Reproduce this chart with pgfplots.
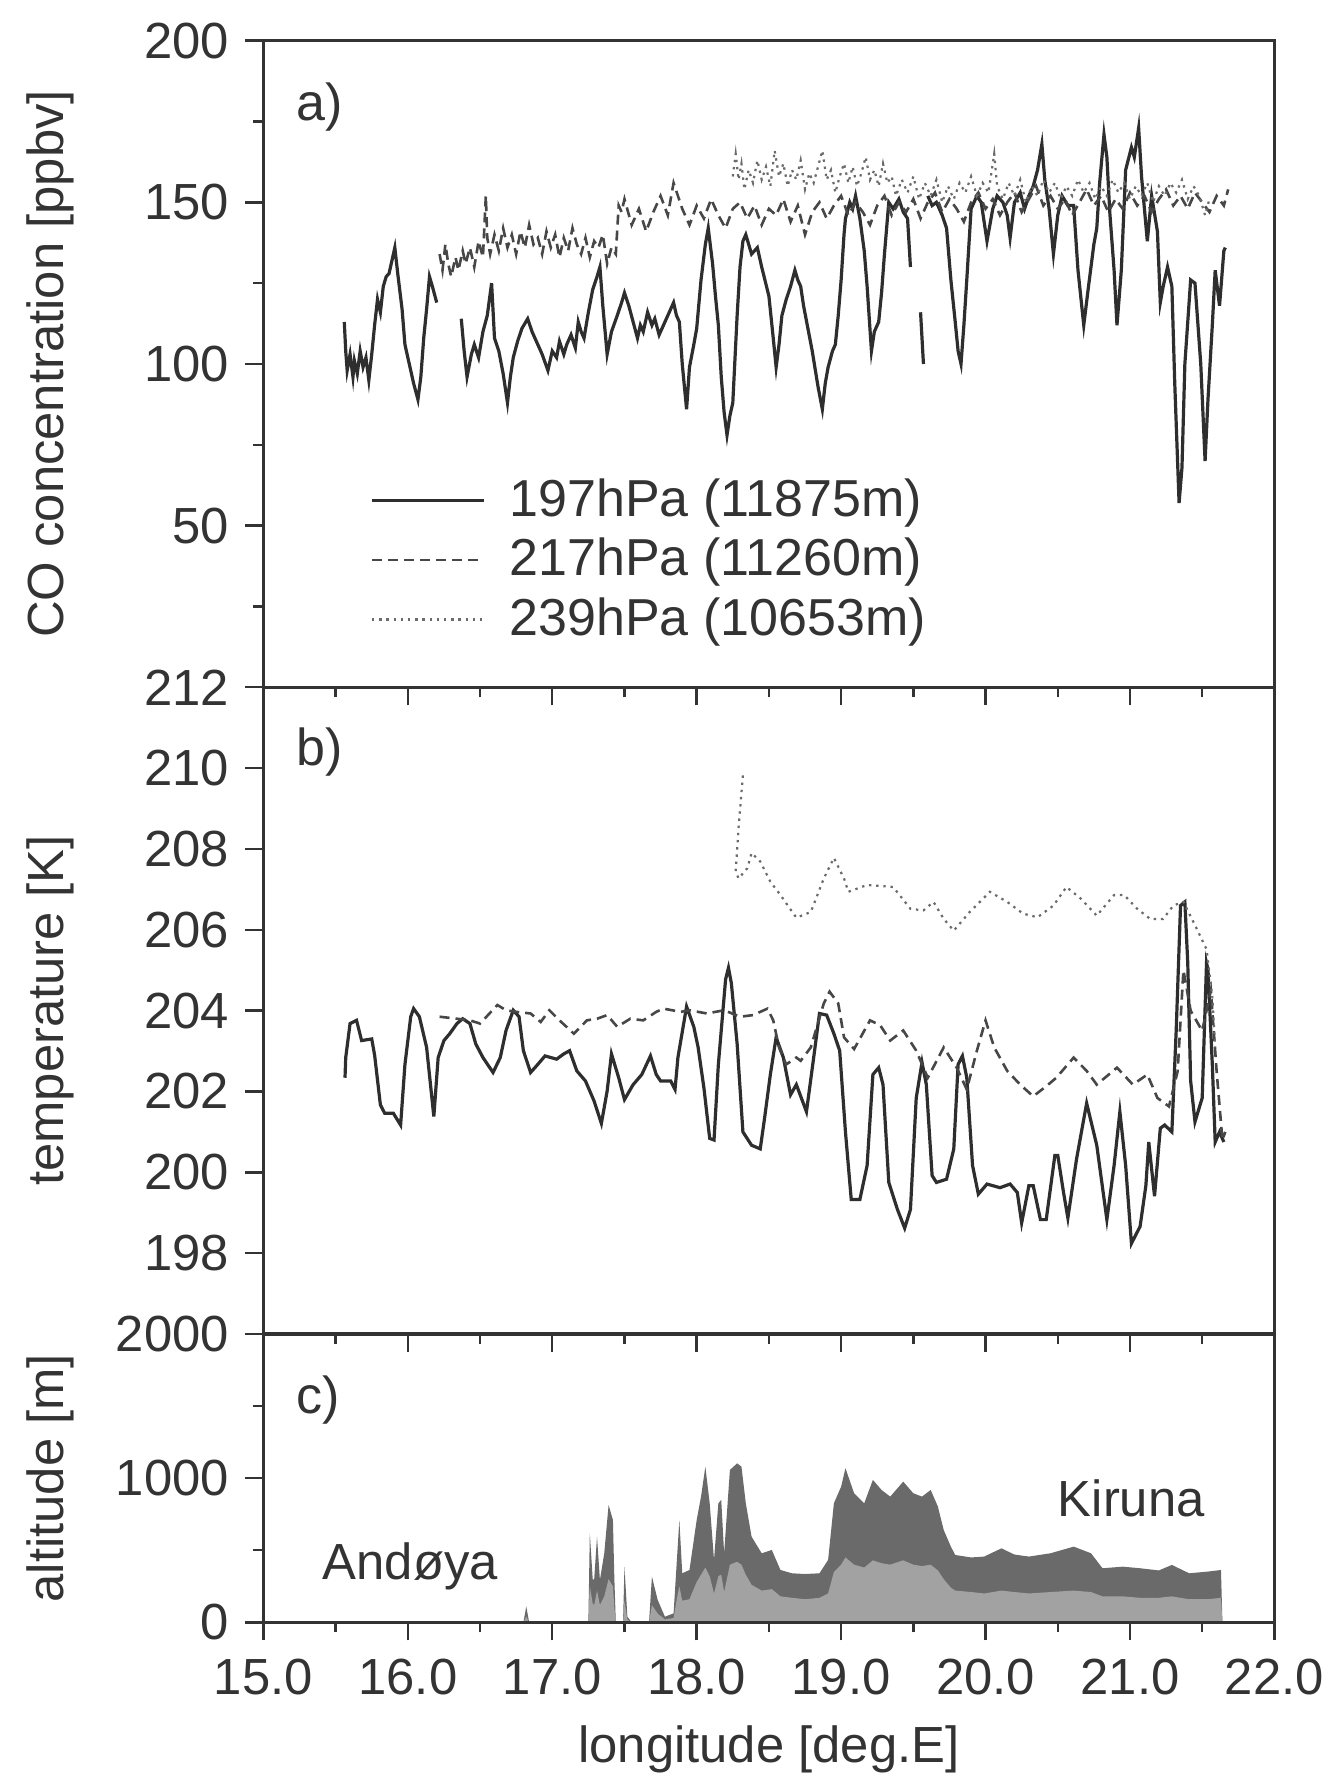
\documentclass[border=0pt]{standalone}
\usepackage{fontspec}
\setmainfont{Liberation Sans}
\usepackage{pgfplots}
\pgfplotsset{compat=1.18}
\usepackage{pgfplotstable}
\newcommand\fsz{\fontsize{12.7}{15}\selectfont}
\newcommand\fszl{\fontsize{13}{15.5}\selectfont}
\definecolor{ink}{HTML}{333333}
\definecolor{altdark}{HTML}{6A6A6A}
\definecolor{altlight}{HTML}{A2A2A2}

\pgfplotstableread{
x y
15.56 113
15.57 104
15.58 98
15.60 103
15.62 96
15.63 101
15.65 97
15.67 104
15.69 99
15.71 102
15.73 95
15.75 103
15.77 112
15.79 120
15.81 116
15.83 124
15.85 127
15.87 128
15.89 132
15.91 136
15.93 128
15.96 117
15.98 106
16.01 100
16.04 94
16.07 89
16.09 96
16.11 108
16.13 117
16.15 127
16.17 124
16.20 119
16.22 nan
16.37 114
16.39 104
16.41 96
16.44 103
16.46 106
16.49 102
16.52 110
16.55 115
16.58 125
16.60 108
16.63 104
16.66 97
16.69 88
16.71 96
16.73 102
16.76 107
16.79 111
16.83 114
16.86 110
16.90 106
16.93 103
16.97 98
17.00 104
17.03 102
17.05 107
17.08 103
17.10 106
17.13 109
17.16 105
17.18 113
17.20 110
17.22 108
17.25 116
17.28 123
17.31 127
17.33 130
17.35 118
17.38 103
17.41 110
17.45 115
17.48 119
17.50 122
17.53 118
17.56 113
17.59 108
17.61 112
17.63 110
17.66 116
17.69 112
17.71 114
17.74 109
17.77 112
17.80 115
17.84 119
17.86 115
17.88 113
17.90 100
17.93 86
17.95 99
17.98 106
18.00 111
18.03 126
18.06 137
18.08 142
18.11 131
18.13 121
18.15 112
18.17 96
18.19 85
18.21 78
18.23 84
18.25 88
18.28 115
18.30 130
18.32 138
18.34 140
18.38 134
18.42 136
18.45 130
18.50 121
18.53 108
18.55 99
18.57 106
18.59 115
18.62 120
18.65 124
18.68 129
18.70 126
18.72 124
18.74 118
18.77 111
18.80 104
18.84 93
18.87 86
18.89 94
18.91 99
18.94 104
18.96 106
18.98 115
19.00 126
19.02 140
19.03 145
19.06 150
19.08 148
19.10 152
19.13 145
19.16 135
19.18 124
19.21 104
19.23 110
19.26 113
19.28 122
19.30 134
19.33 150
19.36 148
19.40 151
19.43 147
19.46 145
19.48 130
19.49 nan
19.55 116
19.57 100
19.58 nan
19.60 152
19.63 149
19.66 150
19.70 146
19.73 142
19.76 126
19.79 113
19.81 104
19.83 100
19.85 112
19.87 126
19.90 148
19.94 152
19.97 150
20.01 138
20.05 148
20.08 152
20.12 150
20.15 146
20.17 139
20.20 150
20.24 153
20.27 148
20.30 152
20.33 155
20.36 160
20.39 168
20.41 157
20.44 148
20.47 134
20.50 146
20.53 152
20.57 149
20.61 149
20.64 129
20.68 112
20.71 123
20.75 137
20.77 142
20.79 156
20.82 171
20.84 164
20.86 147
20.89 129
20.91 112
20.94 129
20.97 160
21.01 167
21.03 164
21.06 173
21.08 158
21.12 138
21.15 152
21.19 141
21.21 119
21.23 124
21.26 130
21.29 124
21.31 94
21.34 57
21.36 68
21.38 100
21.42 126
21.45 125
21.49 100
21.52 70
21.54 89
21.57 112
21.59 129
21.62 118
21.65 135
21.66 136
}\coA

\pgfplotstableread{
x y
16.22 134
16.24 129
16.26 137
16.28 131
16.30 127
16.33 133
16.35 129
16.38 135
16.40 131
16.43 136
16.46 130
16.49 138
16.52 133
16.54 152
16.55 139
16.57 134
16.60 140
16.63 135
16.66 142
16.69 136
16.72 140
16.75 134
16.78 141
16.81 136
16.84 143
16.87 137
16.90 139
16.93 134
16.96 141
16.99 136
17.02 140
17.05 133
17.08 139
17.11 135
17.14 142
17.17 137
17.20 134
17.23 139
17.26 133
17.29 138
17.32 136
17.35 140
17.38 131
17.41 136
17.44 134
17.46 149
17.48 147
17.50 151
17.55 143
17.60 148
17.65 141
17.70 147
17.75 152
17.80 146
17.84 156
17.90 148
17.95 143
18.00 149
18.05 145
18.10 151
18.15 146
18.20 142
18.25 148
18.30 150
18.35 145
18.40 149
18.45 143
18.50 148
18.55 146
18.60 151
18.65 144
18.70 149
18.75 140
18.80 147
18.85 150
18.90 145
18.95 149
19.00 152
19.05 146
19.10 150
19.15 147
19.20 143
19.25 149
19.30 152
19.35 146
19.40 150
19.45 147
19.50 151
19.55 145
19.60 150
19.65 153
19.70 147
19.75 151
19.80 148
19.85 144
19.90 150
19.95 153
20.00 148
20.05 151
20.10 146
20.15 150
20.20 153
20.25 147
20.30 151
20.35 155
20.40 149
20.45 152
20.50 148
20.55 151
20.60 146
20.65 150
20.70 154
20.75 149
20.80 152
20.85 147
20.90 151
20.95 148
21.00 153
21.05 149
21.10 152
21.15 147
21.20 151
21.25 154
21.30 149
21.35 152
21.40 148
21.45 153
21.50 150
21.55 147
21.60 152
21.65 149
21.68 154
}\coB

\pgfplotstableread{
x y
18.25 158
18.27 165
18.29 157
18.31 162
18.33 154
18.36 160
18.39 156
18.42 163
18.45 157
18.48 161
18.51 155
18.54 166
18.57 158
18.60 162
18.63 155
18.66 160
18.69 157
18.72 163
18.75 154
18.78 159
18.81 156
18.84 161
18.87 166
18.90 157
18.93 160
18.96 153
18.99 158
19.02 162
19.05 156
19.08 161
19.11 155
19.14 159
19.17 164
19.20 157
19.23 160
19.26 155
19.29 162
19.32 156
19.35 158
19.38 152
19.42 157
19.46 153
19.50 158
19.54 151
19.58 156
19.62 152
19.66 157
19.70 150
19.74 155
19.78 151
19.82 156
19.86 153
19.90 158
19.94 152
19.98 156
20.02 153
20.06 165
20.08 155
20.12 151
20.16 156
20.20 152
20.24 157
20.28 150
20.32 155
20.36 152
20.40 157
20.44 153
20.48 156
20.52 151
20.56 155
20.60 152
20.64 157
20.68 153
20.72 156
20.76 151
20.80 155
20.84 152
20.88 157
20.92 153
20.96 156
21.00 151
21.04 155
21.08 152
21.12 156
21.16 150
21.20 155
21.24 152
21.28 156
21.32 153
21.36 157
21.40 151
21.44 155
21.48 152
21.52 146
21.55 151
}\coC

\pgfplotstableread{
x y
15.565 202.34
15.57 202.84
15.60 203.68
15.645 203.76
15.68 203.26
15.75 203.30
15.77 202.90
15.81 201.67
15.84 201.46
15.90 201.46
15.95 201.17
15.98 202.67
16.02 203.85
16.04 204.05
16.08 203.85
16.13 203.09
16.18 201.38
16.21 202.84
16.25 203.26
16.29 203.43
16.34 203.68
16.38 203.80
16.43 203.68
16.47 203.18
16.52 202.84
16.59 202.47
16.64 202.84
16.68 203.51
16.73 204.01
16.77 203.85
16.80 203.01
16.85 202.47
16.89 202.63
16.95 202.88
17.03 202.80
17.08 202.93
17.12 203.01
17.17 202.51
17.23 202.26
17.29 201.76
17.34 201.21
17.38 202.01
17.41 202.93
17.46 202.34
17.50 201.80
17.56 202.17
17.62 202.42
17.68 202.88
17.72 202.42
17.75 202.26
17.82 202.26
17.85 202.05
17.87 202.84
17.93 204.10
17.98 203.60
18.01 203.09
18.05 202.09
18.09 200.84
18.12 200.80
18.15 202.67
18.20 204.77
18.22 205.06
18.24 204.68
18.28 203.18
18.32 201.00
18.38 200.67
18.44 200.58
18.47 201.34
18.51 202.42
18.55 203.34
18.60 202.84
18.65 201.92
18.69 202.17
18.76 201.50
18.81 202.84
18.85 203.93
18.90 203.89
18.95 203.43
18.99 203.01
19.03 201.00
19.07 199.33
19.13 199.33
19.18 200.17
19.22 202.42
19.26 202.59
19.29 202.17
19.33 199.75
19.39 199.08
19.44 198.62
19.48 199.08
19.52 201.84
19.56 202.72
19.59 202.17
19.63 199.92
19.66 199.75
19.73 199.83
19.78 200.58
19.81 202.67
19.84 202.88
19.87 202.34
19.91 200.17
19.95 199.46
20.01 199.71
20.10 199.62
20.17 199.71
20.22 199.50
20.25 198.75
20.30 199.67
20.33 199.67
20.38 198.83
20.42 198.83
20.48 200.42
20.50 200.42
20.54 199.50
20.57 198.87
20.63 200.33
20.70 201.71
20.77 200.67
20.84 198.83
20.89 200.17
20.93 201.50
20.97 200.17
21.01 198.24
21.07 198.66
21.11 199.67
21.13 200.75
21.17 199.41
21.21 201.09
21.24 201.17
21.29 201.00
21.32 203.51
21.35 206.60
21.38 206.69
21.40 205.18
21.42 202.26
21.45 201.25
21.50 201.84
21.53 205.18
21.54 205.02
21.57 202.67
21.59 200.75
21.62 201.00
21.65 200.75
}\tA

\pgfplotstableread{
x y
16.22 203.85
16.34 203.80
16.43 203.76
16.50 203.68
16.62 204.14
16.68 204.01
16.75 203.97
16.85 203.93
16.92 203.72
16.98 204.01
17.05 203.76
17.15 203.43
17.24 203.76
17.31 203.80
17.38 203.89
17.45 203.60
17.54 203.80
17.63 203.76
17.72 203.97
17.77 204.05
17.89 203.97
17.95 204.01
18.07 203.93
18.19 204.01
18.30 203.85
18.39 203.89
18.49 204.05
18.53 203.76
18.57 203.09
18.62 202.67
18.69 202.84
18.72 202.76
18.79 203.09
18.88 204.18
18.92 204.47
18.98 204.18
19.02 203.34
19.09 203.05
19.20 203.76
19.27 203.64
19.34 203.26
19.43 203.51
19.52 203.01
19.60 202.34
19.71 203.09
19.80 202.59
19.87 202.05
19.94 203.01
20.00 203.76
20.06 203.09
20.15 202.51
20.24 202.17
20.33 201.88
20.42 202.13
20.49 202.34
20.61 202.84
20.70 202.51
20.77 202.17
20.91 202.59
21.02 202.17
21.12 202.42
21.19 201.84
21.27 201.63
21.33 202.50
21.37 205.00
21.42 204.00
21.50 203.50
21.56 204.50
21.60 202.50
21.64 200.80
21.66 201.00
}\tB

\pgfplotstableread{
x y
18.32 209.82
18.29 208.53
18.27 207.44
18.29 207.27
18.35 207.52
18.38 207.90
18.44 207.69
18.51 207.19
18.58 206.86
18.69 206.30
18.79 206.44
18.88 207.27
18.95 207.78
19.02 207.27
19.05 206.94
19.18 207.11
19.36 207.06
19.48 206.52
19.57 206.48
19.64 206.69
19.71 206.27
19.78 205.98
19.89 206.44
20.03 206.94
20.15 206.69
20.26 206.40
20.36 206.31
20.47 206.60
20.56 207.06
20.66 206.77
20.77 206.35
20.89 206.86
20.96 206.86
21.05 206.52
21.14 206.27
21.23 206.27
21.30 206.60
21.37 206.69
21.44 206.19
21.53 205.52
21.57 204.35
21.59 203.09
}\tC

\pgfplotstableread{
x top low
16.80 0 0
16.82 110 40
16.84 0 0
17.25 0 0
17.26 618 250
17.28 300 130
17.29 294 120
17.31 594 220
17.33 294 120
17.36 479 180
17.39 814 300
17.42 710 250
17.43 300 100
17.44 0 0
17.49 0 0
17.50 386 150
17.52 39 20
17.55 0 0
17.67 0 0
17.69 317 120
17.73 155 60
17.78 39 20
17.84 62 30
17.86 386 150
17.88 710 250
17.90 340 150
17.95 363 160
18.00 710 280
18.03 872 330
18.06 1080 380
18.09 826 320
18.12 433 200
18.15 826 320
18.17 849 330
18.19 479 210
18.23 1057 400
18.28 1103 420
18.31 1080 400
18.34 826 330
18.38 594 260
18.45 479 220
18.52 502 230
18.58 363 180
18.66 340 170
18.75 335 160
18.85 340 170
18.91 433 200
18.95 826 350
19.00 941 400
19.03 1069 450
19.09 895 400
19.16 826 380
19.22 988 430
19.28 918 410
19.34 872 400
19.43 976 430
19.50 895 400
19.56 872 390
19.62 918 400
19.67 803 360
19.71 641 300
19.76 525 240
19.79 467 220
19.90 450 210
19.99 456 200
20.11 513 220
20.20 470 210
20.30 456 200
20.45 479 210
20.61 525 220
20.73 479 210
20.81 375 180
20.95 386 180
21.07 375 170
21.20 360 170
21.29 398 180
21.41 340 160
21.54 352 160
21.63 363 170
21.64 0 0
}\alt

\pgfplotsset{
  panel/.style={
    scale only axis, width=252.75pt,
    xmin=15, xmax=22,
    xtick={15,16,...,22}, minor xtick={15.5,16.5,...,21.5},
    tick align=outside, xtick pos=bottom, ytick pos=left,
    major tick length=4.5pt, minor tick length=2.5pt,
    tick style={line width=0.6pt, color=ink},
    axis line style={line width=0.8pt, color=ink},
    tick label style={font=\fsz, color=ink},
    label style={font=\fsz, color=ink},
    /pgf/number format/assume math mode=true,
    /pgf/number format/1000 sep={},
    scaled ticks=false,
    yticklabel style={xshift=-0.6pt},
    xticklabel style={yshift=-1.2pt},
    every axis y label/.style={at={(axis description cs:-0.2109,0.5)}, rotate=90, anchor=center, font=\fsz, color=ink},
    unbounded coords=jump,
  },
  s197/.style={line width=0.8pt, color=black!82},
  s217/.style={line width=0.65pt, color=black!72, dash pattern=on 2.5pt off 1.5pt},
  s239/.style={line width=0.55pt, color=black!58, dash pattern=on 0.6pt off 1.2pt},
}

\begin{document}
\begin{tikzpicture}
\begin{axis}[panel, name=a, height=161.65pt,
  ymin=0, ymax=200, ytick={50,100,150,200}, minor ytick={25,75,125,175},
  xticklabels={},
  ylabel={CO concentration [ppbv]},
  legend style={at={(rel axis cs:0.105,0.197)}, anchor=west, draw=none, fill=none,
    font=\fszl, row sep=1pt, column sep=4.5pt, inner sep=0pt, text=ink,
    nodes={inner sep=1.5pt}},
  legend cell align=left,
  legend image code/.code={\draw[#1] (0pt,0pt) -- (28pt,0pt);},
]
\addplot[s197] table {\coA};
\addlegendentry{197hPa (11875m)}
\addplot[s217] table {\coB};
\addlegendentry{217hPa (11260m)}
\addplot[s239] table {\coC};
\addlegendentry{239hPa (10653m)}
\node[anchor=west, font=\fszl, inner sep=0pt, text=ink] at (rel axis cs:0.032,0.897) {a)};
\end{axis}

\begin{axis}[panel, name=b, at={(a.south west)}, anchor=north west, height=161.675pt,
  ymin=196, ymax=212, ytick={198,200,...,212},
  xticklabels={},
  ylabel={temperature [K]},
]
\addplot[s197] table {\tA};
\addplot[s217] table {\tB};
\addplot[s239] table {\tC};
\node[anchor=west, font=\fszl, inner sep=0pt, text=ink] at (rel axis cs:0.032,0.9) {b)};
\end{axis}

\begin{axis}[panel, name=c, at={(b.south west)}, anchor=north west, height=72.075pt,
  ymin=0, ymax=2000, ytick={0,1000,2000}, minor ytick={500,1500},
  axis on top,
  xticklabel style={/pgf/number format/fixed, /pgf/number format/fixed zerofill, /pgf/number format/precision=1},
  ylabel={altitude [m]},
  xlabel={longitude [deg.E]},
  xlabel style={at={(axis description cs:0.5,-0.485)}, anchor=base},
]
\addplot[fill=altdark, draw=none] table[x=x, y=top] {\alt} \closedcycle;
\addplot[fill=altlight, draw=none] table[x=x, y=low] {\alt} \closedcycle;
\node[anchor=west, font=\fszl, inner sep=0pt, text=ink] at (rel axis cs:0.032,0.771) {c)};
\node[anchor=west, font=\fsz, inner sep=0pt, text=ink] at (rel axis cs:0.058,0.195) {Andøya};
\node[anchor=west, font=\fsz, inner sep=0pt, text=ink] at (rel axis cs:0.785,0.431) {Kiruna};
\end{axis}

\pgfresetboundingbox
\path[use as bounding box] ([shift={(-65.85pt,10.175pt)}]a.north west) rectangle ([shift={(265.4pt,-37.675pt)}]c.south west);
\end{tikzpicture}
\end{document}
